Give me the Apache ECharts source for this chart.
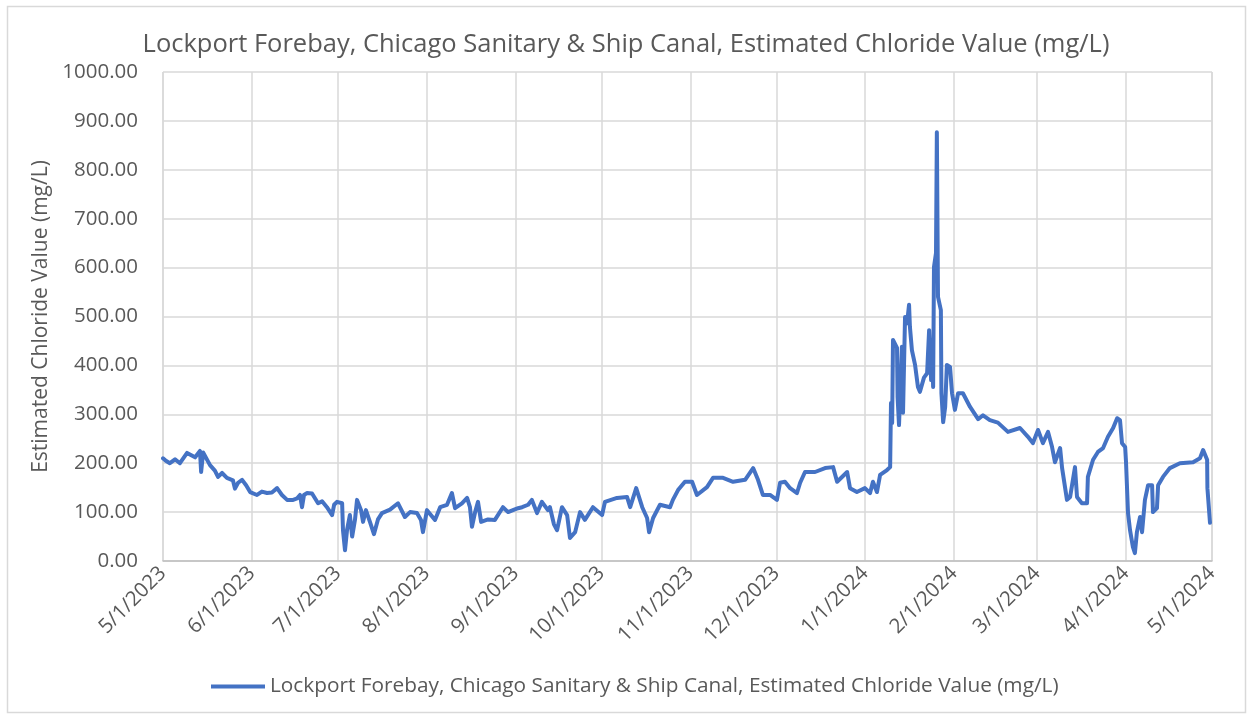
<!DOCTYPE html>
<html>
<head>
<meta charset="utf-8">
<title>Lockport Forebay Chloride</title>
<script src="https://cdn.jsdelivr.net/npm/echarts@6/dist/echarts.min.js"></script>
<style>
  html, body { margin: 0; padding: 0; background: #fff; }
  #chart { width: 1252px; height: 719px; }
</style>
</head>
<body>
<div id="chart"></div>
<script>
// days since 5/1/2023 (fractional)
const dayOffsets = [
  0, 1.0, 2.4, 4.2, 5.9, 8.4, 11.2, 12.9, 13.3, 14.0, 16.4, 18.1, 19.2, 20.6, 22.3, 24.4, 25.1, 26.2, 27.6, 29.0,
  30.4, 32.8, 34.5, 36.3, 38.0, 39.8, 41.5, 43.3, 45.4, 46.8, 47.8, 48.5, 49.2, 50.2, 52.0, 54.1, 55.5, 57.2, 59.0, 59.7,
  60.7, 62.5, 62.8, 63.5, 64.2, 65.2, 66.0, 67.0, 67.7, 69.1, 69.8, 70.8, 72.2, 73.6, 75.0, 76.4, 79.2, 82.0, 84.4, 86.2,
  88.6, 90.0, 90.7, 92.1, 94.9, 96.7, 99.1, 100.8, 101.9, 104.3, 106.1, 107.1, 107.8, 108.9, 109.9, 111.0, 113.4, 115.8, 118.6, 120.4,
  122.1, 123.9, 125.3, 127.4, 128.7, 130.5, 132.2, 134.3, 135.0, 136.4, 137.5, 139.2, 141.0, 142.0, 143.8, 145.5, 147.2, 150.0, 153.2, 154.2,
  158.4, 161.9, 163.0, 165.1, 167.2, 168.9, 169.6, 171.0, 173.4, 176.9, 177.9, 179.7, 182.1, 184.6, 186.3, 189.8, 191.9, 195.4, 198.9, 203.1,
  205.9, 207.6, 209.3, 211.8, 214.2, 215.3, 217.0, 218.8, 221.2, 222.3, 224.0, 227.5, 231.0, 233.8, 235.2, 238.7, 239.7, 242.1, 244.9, 246.7,
  247.7, 249.1, 250.2, 252.6, 253.7, 254.0, 254.4, 254.7, 256.1, 256.3, 256.8, 257.8, 258.2, 258.9, 259.6, 260.3, 260.6, 261.3, 262.4, 263.4,
  264.1, 265.5, 266.6, 267.3, 268.0, 268.3, 268.7, 269.0, 269.7, 270.0, 270.4, 271.4, 271.6, 272.2, 272.9, 273.5, 274.6, 275.3, 276.3, 277.4,
  279.1, 281.6, 284.4, 286.1, 288.5, 291.3, 294.8, 299.0, 301.8, 303.5, 305.3, 307.0, 308.8, 310.2, 311.2, 313.0, 313.7, 315.4, 316.5, 318.2,
  318.9, 320.6, 322.4, 322.7, 324.5, 326.2, 328.0, 329.7, 331.5, 332.9, 333.9, 334.6, 335.7, 336.0, 336.7, 337.4, 338.4, 339.1, 339.8, 340.9,
  341.6, 342.6, 343.7, 345.1, 345.4, 346.8, 347.2, 348.9, 351.3, 354.8, 359.4, 361.8, 362.9, 364.3, 364.4, 365.0, 365.3
];
// mg/L
const chlorideValues = [
  210, 205, 200, 208, 200, 221, 212, 225, 182, 222, 196, 185, 172, 180, 170, 165, 148, 160, 166, 155,
  141, 135, 142, 139, 140, 149, 135, 125, 125, 128, 135, 110, 135, 139, 138, 118, 122, 110, 94, 115,
  121, 118, 63, 22, 63, 94, 50, 85, 125, 104, 80, 104, 80, 55, 85, 98, 105, 118, 90, 100,
  98, 84, 59, 104, 84, 110, 115, 139, 108, 118, 129, 110, 70, 100, 121, 80, 85, 84, 110, 100,
  104, 108, 110, 115, 125, 98, 121, 104, 110, 75, 63, 110, 94, 47, 59, 100, 84, 110, 94, 121,
  129, 131, 110, 149, 110, 88, 59, 88, 115, 110, 125, 145, 162, 162, 135, 151, 170, 170, 162, 166,
  190, 166, 135, 135, 125, 160, 162, 149, 139, 160, 182, 182, 190, 192, 162, 182, 149, 141, 149, 139,
  162, 141, 176, 186, 192, 323, 282, 452, 436, 335, 278, 438, 303, 499, 486, 524, 479, 431, 401, 356,
  346, 375, 384, 472, 370, 452, 356, 601, 630, 877, 540, 513, 343, 284, 315, 401, 397, 343, 309, 343,
  343, 315, 290, 298, 288, 283, 264, 272, 254, 241, 268, 241, 264, 233, 202, 231, 190, 125, 131, 192,
  131, 118, 118, 172, 207, 223, 231, 254, 272, 292, 288, 241, 233, 202, 98, 63, 29, 16, 59, 90,
  59, 125, 155, 155, 100, 108, 155, 172, 190, 200, 202, 210, 227, 207, 149, 149, 78
];
const yTicks = { min: 0, max: 1000, step: 100 };
const seriesName = "Lockport Forebay, Chicago Sanitary & Ship Canal, Estimated Chloride Value (mg/L)";

const DAY = 86400000;
const start = new Date(2023, 4, 1).getTime();
const end = new Date(2024, 4, 1).getTime();
const seriesData = dayOffsets.map((d, i) => [start + d * DAY, chlorideValues[i]]);

const FONT = "Open Sans";
const GREY = "#595959";
const LABEL_SIZE = 20.5;

const chart = echarts.init(document.getElementById("chart"));
chart.setOption({
  animation: false,
  textStyle: { fontFamily: FONT },
  title: {
    text: seriesName,
    left: "center",
    top: 27,
    textStyle: { fontFamily: FONT, fontSize: 25.5, fontWeight: "normal", color: GREY },
  },
  legend: {
    data: [seriesName],
    left: 206,
    top: 671,
    icon: "rect",
    itemWidth: 54,
    itemHeight: 4,
    itemGap: 6,
    textStyle: { fontFamily: FONT, fontSize: 20.8, color: GREY },
  },
  grid: { left: 163, right: 40, top: 72, bottom: 158, containLabel: false },
  xAxis: {
    type: "time",
    min: start,
    max: end,
    minInterval: 28 * DAY,
    maxInterval: 31 * DAY,
    axisLine: { show: true, lineStyle: { color: "#bfbfbf", width: 1.5 } },
    axisTick: { show: false },
    splitLine: { show: true, lineStyle: { color: "#d9d9d9", width: 1.5 } },
    axisLabel: {
      rotate: 45,
      color: GREY,
      fontSize: LABEL_SIZE,
      fontFamily: FONT,
      margin: 9,
      hideOverlap: false,
      showMinLabel: true,
      showMaxLabel: true,
      formatter: (val) => {
        const d = new Date(val);
        return (d.getMonth() + 1) + "/" + d.getDate() + "/" + d.getFullYear();
      },
    },
  },
  yAxis: {
    type: "value",
    min: yTicks.min,
    max: yTicks.max,
    interval: yTicks.step,
    name: "Estimated Chloride Value (mg/L)",
    nameLocation: "middle",
    nameGap: 110,
    nameTextStyle: { fontFamily: FONT, fontSize: 21, color: GREY },
    axisLine: { show: false },
    axisTick: { show: false },
    splitLine: { lineStyle: { color: "#d9d9d9", width: 1.5 } },
    axisLabel: {
      color: GREY,
      fontSize: LABEL_SIZE,
      fontFamily: FONT,
      margin: 25,
      formatter: (v) => v.toFixed(2),
    },
  },
  series: [
    {
      name: seriesName,
      type: "line",
      data: seriesData,
      showSymbol: false,
      symbol: "none",
      color: "#4472c4",
      lineStyle: { color: "#4472c4", width: 4, join: "round", cap: "round" },
    },
  ],
  graphic: [
    {
      type: "rect",
      shape: { x: 7.5, y: 6.5, width: 1238, height: 706 },
      style: { fill: null, stroke: "#d9d9d9", lineWidth: 1.5 },
      silent: true,
    },
  ],
});
</script>
</body>
</html>
